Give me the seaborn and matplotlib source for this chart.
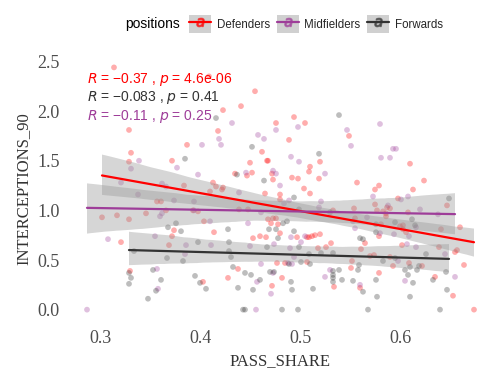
import numpy as np
import pandas as pd
import seaborn as sns
import matplotlib
matplotlib.use("Agg")
import matplotlib.pyplot as plt
from matplotlib.lines import Line2D
from matplotlib.patches import Rectangle
from matplotlib.legend_handler import HandlerTuple

# values
def_share = [0.314, 0.409, 0.329, 0.387, 0.331, 0.329, 0.372, 0.384, 0.413, 0.455,
             0.441, 0.423, 0.418, 0.494, 0.476, 0.505, 0.549, 0.489, 0.462, 0.520,
             0.467, 0.468, 0.450, 0.510, 0.509, 0.435, 0.452, 0.447, 0.472, 0.473,
             0.492, 0.498, 0.519, 0.504, 0.416, 0.423, 0.610, 0.557, 0.579, 0.624,
             0.575, 0.613, 0.357, 0.361, 0.302, 0.317, 0.329, 0.346, 0.366, 0.393,
             0.398, 0.410, 0.404, 0.414, 0.321, 0.374, 0.372, 0.369, 0.330, 0.403,
             0.422, 0.465, 0.480, 0.510, 0.480, 0.533, 0.439, 0.448, 0.468, 0.473,
             0.476, 0.471, 0.478, 0.480, 0.460, 0.466, 0.453, 0.497, 0.507, 0.509,
             0.512, 0.515, 0.520, 0.518, 0.526, 0.531, 0.477, 0.485, 0.507, 0.438,
             0.428, 0.482, 0.534, 0.472, 0.598, 0.647, 0.575, 0.587, 0.586, 0.554,
             0.577, 0.583, 0.590, 0.586, 0.608, 0.555, 0.581, 0.600, 0.603, 0.579,
             0.606, 0.603, 0.641, 0.660, 0.565, 0.602, 0.639, 0.657, 0.655, 0.561,
             0.570, 0.574, 0.590, 0.593, 0.552, 0.609, 0.622, 0.664, 0.551, 0.579,
             0.635, 0.560, 0.653, 0.674]
def_int = [2.44, 2.35, 1.81, 1.66, 1.58, 1.49, 1.50, 1.25, 1.28, 2.20,
           2.05, 2.01, 1.80, 1.94, 1.88, 1.88, 1.75, 1.71, 1.59, 1.49,
           1.50, 1.50, 1.48, 1.44, 1.39, 1.37, 1.38, 1.35, 1.37, 1.31,
           1.33, 1.32, 1.32, 1.22, 1.24, 1.23, 1.47, 1.28, 1.25, 1.30,
           1.21, 1.21, 1.09, 1.09, 0.93, 0.95, 0.91, 0.97, 1.00, 1.00,
           0.99, 1.19, 0.89, 0.78, 0.68, 0.80, 0.74, 0.65, 0.39, 0.28,
           1.21, 1.17, 1.16, 1.17, 1.11, 1.00, 1.01, 1.01, 0.91, 0.92,
           0.92, 0.87, 0.86, 0.77, 0.74, 0.73, 0.72, 0.73, 0.73, 0.73,
           0.74, 0.75, 0.76, 0.62, 0.63, 0.67, 0.47, 0.47, 0.48, 0.41,
           0.32, 0.32, 0.23, 0.24, 1.12, 1.05, 1.06, 1.03, 0.97, 1.02,
           1.00, 0.99, 1.02, 0.94, 0.98, 0.92, 0.86, 0.84, 0.85, 0.74,
           0.78, 0.81, 0.81, 0.83, 0.67, 0.65, 0.63, 0.60, 0.58, 0.61,
           0.54, 0.55, 0.53, 0.44, 0.49, 0.47, 0.44, 0.45, 0.42, 0.37,
           0.33, 0.22, 0.14, 0.00]

mid_share = [0.402, 0.339, 0.377, 0.331, 0.398, 0.321, 0.362, 0.366, 0.432, 0.419,
             0.421, 0.476, 0.498, 0.547, 0.458, 0.464, 0.491, 0.499, 0.525, 0.446,
             0.473, 0.476, 0.480, 0.580, 0.551, 0.593, 0.596, 0.581, 0.590, 0.287,
             0.308, 0.338, 0.362, 0.360, 0.374, 0.394, 0.394, 0.410, 0.355, 0.386,
             0.411, 0.385, 0.357, 0.358, 0.439, 0.489, 0.484, 0.521, 0.519, 0.461,
             0.448, 0.491, 0.505, 0.501, 0.474, 0.450, 0.490, 0.494, 0.488, 0.492,
             0.461, 0.473, 0.457, 0.530, 0.525, 0.471, 0.456, 0.573, 0.601, 0.608,
             0.588, 0.567, 0.620, 0.638, 0.553, 0.616, 0.555, 0.580, 0.594, 0.609,
             0.607, 0.616, 0.645, 0.598, 0.655, 0.605, 0.560]
mid_int = [1.66, 1.50, 1.43, 1.42, 1.36, 1.28, 1.27, 1.24, 1.88, 1.72,
           1.66, 1.81, 1.84, 1.81, 1.76, 1.72, 1.54, 1.49, 1.37, 1.38,
           1.40, 1.37, 1.25, 1.87, 1.65, 1.62, 1.62, 1.53, 1.53, 0.00,
           0.71, 1.16, 0.97, 0.94, 1.10, 1.09, 1.00, 0.89, 0.74, 0.65,
           0.65, 0.56, 0.41, 0.21, 1.18, 1.10, 1.07, 1.09, 1.03, 0.98,
           0.87, 0.73, 0.74, 0.68, 0.66, 0.64, 0.62, 0.53, 0.47, 0.46,
           0.46, 0.37, 0.28, 0.40, 0.33, 0.16, 0.00, 1.14, 1.11, 1.14,
           1.05, 0.93, 1.01, 0.96, 0.89, 0.83, 0.82, 0.77, 0.76, 0.74,
           0.66, 0.63, 0.56, 0.49, 0.33, 0.29, 0.25]

fwd_share = [0.385, 0.416, 0.539, 0.452, 0.519, 0.437, 0.464, 0.376, 0.368, 0.381,
             0.334, 0.398, 0.367, 0.383, 0.329, 0.331, 0.329, 0.353, 0.361, 0.356,
             0.348, 0.395, 0.400, 0.406, 0.428, 0.429, 0.431, 0.433, 0.438, 0.445,
             0.451, 0.460, 0.453, 0.443, 0.445, 0.469, 0.467, 0.470, 0.474, 0.429,
             0.494, 0.530, 0.499, 0.483, 0.487, 0.476, 0.478, 0.494, 0.499, 0.509,
             0.521, 0.533, 0.489, 0.501, 0.510, 0.533, 0.539, 0.533, 0.533, 0.542,
             0.533, 0.491, 0.492, 0.513, 0.482, 0.498, 0.649, 0.612, 0.576, 0.595,
             0.615, 0.576, 0.560, 0.563, 0.626, 0.595, 0.583, 0.605, 0.619, 0.610,
             0.559, 0.558, 0.617, 0.608, 0.646, 0.553, 0.576, 0.613, 0.633, 0.563,
             0.647, 0.577, 0.610, 0.568, 0.640]
fwd_int = [1.52, 1.93, 1.96, 1.64, 1.57, 1.36, 1.30, 0.87, 0.83, 0.79,
           0.59, 0.68, 0.52, 0.49, 0.37, 0.32, 0.26, 0.40, 0.30, 0.19,
           0.11, 0.34, 0.27, 0.21, 0.81, 0.68, 0.53, 0.43, 0.22, 0.37,
           0.35, 0.30, 0.20, 0.00, 0.00, 0.81, 0.63, 0.38, 0.38, 0.59,
           1.13, 0.98, 1.01, 0.87, 0.89, 0.81, 0.72, 0.79, 0.63, 0.56,
           0.57, 0.57, 0.46, 0.48, 0.46, 0.39, 0.40, 0.35, 0.32, 0.30,
           0.28, 0.28, 0.20, 0.21, 0.00, 0.00, 1.12, 0.91, 0.86, 0.88,
           0.85, 0.78, 0.72, 0.71, 0.56, 0.52, 0.49, 0.40, 0.44, 0.43,
           0.45, 0.40, 0.40, 0.35, 0.38, 0.29, 0.30, 0.27, 0.30, 0.18,
           0.20, 0.13, 0.13, 0.00, 0.00]

positions = ["Defenders", "Midfielders", "Forwards"]
colors = {"Defenders": "#FF0000", "Midfielders": "#9E3D99", "Forwards": "#333333"}
cor_labels = {"Defenders": "\u22120.37 , $p$ = 4.6e-06",
              "Forwards": "\u22120.083 , $p$ = 0.41",
              "Midfielders": "\u22120.11 , $p$ = 0.25"}

df = pd.concat([
    pd.DataFrame({"PASS_SHARE": def_share, "INTERCEPTIONS_90": def_int, "positions": "Defenders"}),
    pd.DataFrame({"PASS_SHARE": mid_share, "INTERCEPTIONS_90": mid_int, "positions": "Midfielders"}),
    pd.DataFrame({"PASS_SHARE": fwd_share, "INTERCEPTIONS_90": fwd_int, "positions": "Forwards"}),
], ignore_index=True)

sns.set_style("white")
plt.rcParams["mathtext.fontset"] = "dejavusans"

fig, ax = plt.subplots(figsize=(5, 3.75), dpi=100)
plt.subplots_adjust(left=0.136, right=0.986, bottom=0.142, top=0.852)

sns.scatterplot(data=df, x="PASS_SHARE", y="INTERCEPTIONS_90", hue="positions",
                palette=colors, alpha=0.32, s=17, linewidth=0, legend=False, ax=ax)

for pos in positions:
    sub = df[df.positions == pos]
    n_before = len(ax.collections)
    sns.regplot(data=sub, x="PASS_SHARE", y="INTERCEPTIONS_90", scatter=False,
                color=colors[pos], line_kws={"lw": 1.6}, ax=ax)
    for coll in ax.collections[n_before:]:
        coll.set_facecolor("#999999")
        coll.set_alpha(0.4)
        coll.set_edgecolor("none")

# correlation labels
text_y = [2.285, 2.10, 1.915]
for pos, ty in zip(["Defenders", "Forwards", "Midfielders"], text_y):
    ax.text(0.287, ty, "$R$ = " + cor_labels[pos], color=colors[pos],
            fontsize=10, family="Liberation Sans", va="baseline")

ax.set_xlim(0.268, 0.693)
ax.set_ylim(-0.122, 2.56)
ax.set_xticks([0.3, 0.4, 0.5, 0.6])
ax.set_yticks([0.0, 0.5, 1.0, 1.5, 2.0, 2.5])
ax.set_xticklabels(["0.3", "0.4", "0.5", "0.6"])
ax.set_yticklabels(["0.0", "0.5", "1.0", "1.5", "2.0", "2.5"])
for lab in ax.get_xticklabels() + ax.get_yticklabels():
    lab.set_family("Liberation Serif")
    lab.set_fontsize(13)
    lab.set_color("#4D4D4D")
ax.tick_params(length=0, pad=6)
ax.set_xlabel("PASS_SHARE", family="Liberation Serif", fontsize=12, color="#333333")
ax.set_ylabel("INTERCEPTIONS_90", family="Liberation Serif", fontsize=12, color="#333333")
sns.despine(ax=ax, left=True, bottom=True)

# legend on top
handles = []
for pos in positions:
    handles.append((Rectangle((0, 0), 1, 1, facecolor="#D0D0D0", edgecolor="none"),
                    Line2D([], [], color=colors[pos], lw=1.6),
                    Line2D([], [], color=colors[pos], marker="$a$", ls="none",
                           markersize=6, alpha=0.6)))
fig.legend(handles, positions, handler_map={tuple: HandlerTuple(ndivide=1)},
           loc="center left", bbox_to_anchor=(0.378, 0.936), ncol=3, frameon=False,
           prop={"family": "Liberation Sans", "size": 8.3}, handlelength=1.9,
           handleheight=1.9, handletextpad=0.5, columnspacing=0.6,
           borderpad=0, borderaxespad=0)
fig.text(0.25, 0.936, "positions", family="Liberation Sans", fontsize=10,
         va="center", ha="left", color="black")

fig.savefig("out.png", dpi=100)
